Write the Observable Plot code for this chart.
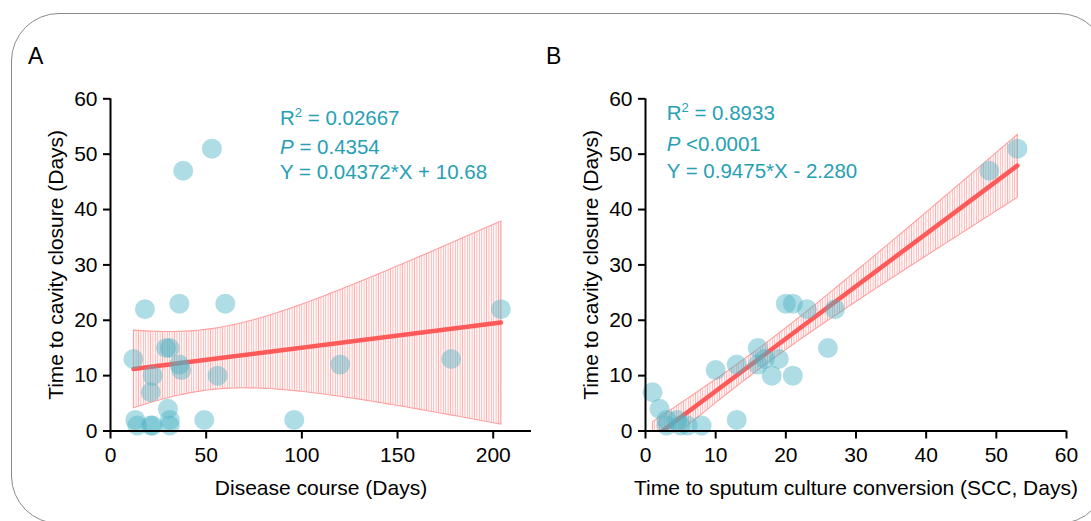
<!DOCTYPE html>
<html><head><meta charset="utf-8">
<script src="https://cdn.jsdelivr.net/npm/d3@7"></script>
<script src="https://cdn.jsdelivr.net/npm/@observablehq/plot@0.6"></script>
<style>
body{margin:0;background:#fff;}
#wrap{position:relative;width:1091px;height:521px;overflow:hidden;font-family:"Liberation Sans",Arial,sans-serif;background:#fff;}
#frame{position:absolute;left:11px;top:13px;width:1096px;height:511px;border:1.3px solid #8a8a8a;border-radius:48px;box-sizing:border-box;}
.panel{position:absolute;top:0;}
.plab{position:absolute;font-size:23px;line-height:23px;color:#000;}
.ann{position:absolute;color:#26a0b4;font-size:20.5px;line-height:20px;white-space:nowrap;}
.ann sup{font-size:13px;vertical-align:baseline;position:relative;top:-8px;}
</style></head><body>
<div id="wrap">
  <div id="frame"></div>
  <div id="pa" class="panel" style="left:0px"></div>
  <div id="pb" class="panel" style="left:545px"></div>
  <div class="plab" style="left:28px;top:45px">A</div>
  <div class="plab" style="left:546px;top:45px">B</div>
  <div id="annA"></div>
  <div id="annB"></div>
</div>
<script>
// ---- Panel A data: disease course vs time to cavity closure ----
const A_x = [53, 38, 18, 36, 60, 204, 12, 29, 31, 36, 37, 22, 56, 120, 178, 21, 30, 13, 14, 21, 22, 31, 31, 49, 96];
const A_y = [51, 47, 22, 23, 23, 22, 13, 15, 15, 12, 11, 10, 10, 12, 13, 7, 4, 2, 1, 1, 1, 2, 1, 2, 2];
const A_fit = [0.04372, 10.68];            // slope, intercept
const A_xTicks = [0, 50, 100, 150, 200];
const A_xLabel = "Disease course (Days)";
const A_stats = ["0.02667", "0.4354", "Y = 0.04372*X + 10.68"];

// ---- Panel B data: time to SCC vs time to cavity closure ----
const B_x = [53, 49, 20, 21, 23, 27, 26, 16, 19, 16, 17, 13, 10, 18, 21, 13, 1, 2, 3, 3, 4.5, 5, 6, 8];
const B_y = [51, 47, 23, 23, 22, 22, 15, 15, 13, 12, 13, 12, 11, 10, 10, 2, 7, 4, 2, 1, 2, 1, 1, 1];
const B_fit = [0.9475, -2.280];
const B_xTicks = [0, 10, 20, 30, 40, 50, 60];
const B_xLabel = "Time to sputum culture conversion (SCC, Days)";
const B_stats = ["0.8933", "<0.0001", "Y = 0.9475*X - 2.280"];

const yTicks = [0, 10, 20, 30, 40, 50, 60];
const yLabel = "Time to cavity closure (Days)";

function panel(o) {
  const data = o.xs.map((x, i) => ({x, y: o.ys[i]}));
  const ext = d3.extent(o.xs);
  const line = ext.map(x => ({x, y: o.fit[0] * x + o.fit[1]}));
  const svg = Plot.plot({
    width: o.width, height: 521,
    marginLeft: o.marginLeft, marginRight: o.marginRight,
    marginTop: 98.3, marginBottom: 90.5,
    x: {domain: o.xDomain},
    y: {domain: [0, 60]},
    style: {fontFamily: '"Liberation Sans", Arial, sans-serif', fontSize: "21px", color: "#000", background: "transparent", overflow: "visible"},
    marks: [
      Plot.linearRegressionY(data, {x: "x", y: "y", stroke: "none", fill: `url(#${o.id})`, fillOpacity: 1, ci: 0.95, clip: true}),
      Plot.line(line, {x: "x", y: "y", stroke: "#ff5a5a", strokeWidth: 4.5, clip: true}),
      Plot.dot(data, {x: "x", y: "y", r: 10, fill: "#4db3c6", fillOpacity: 0.45, stroke: "none"}),
      Plot.ruleX([0], {stroke: "#000", strokeWidth: 2}),
      Plot.ruleY([0], {stroke: "#000", strokeWidth: 2}),
      Plot.axisX({ticks: o.xTicks, tickFormat: d3.format("d"), tickSize: 8, tickPadding: 8, strokeWidth: 2,
        label: o.xLabel, labelAnchor: "center", labelOffset: 64, labelArrow: "none", dx: o.xLabelDx || 0}),
      Plot.axisY({ticks: yTicks, tickFormat: d3.format("d"), tickSize: 7, tickPadding: 6, strokeWidth: 2,
        label: yLabel, labelAnchor: "center", labelOffset: o.yLabelOffset, labelArrow: "none"})
    ]
  });
  const s = d3.select(svg);
  const defs = s.insert("defs", ":first-child");
  const pat = defs.append("pattern").attr("id", o.id).attr("patternUnits", "userSpaceOnUse")
    .attr("width", 2.4).attr("height", 10);
  pat.append("line").attr("x1", 1.2).attr("x2", 1.2).attr("y1", 0).attr("y2", 10)
    .attr("stroke", "#ffb0b0").attr("stroke-width", 1);
  s.selectAll('g[aria-label="linear-regression"] path').each(function() {
    if (this.getAttribute("stroke") === "none") {
      d3.select(this).attr("stroke", "#ffa0a0").attr("stroke-width", 1.1);
    }
  });
  return svg;
}

document.getElementById("pa").appendChild(panel({
  id: "hatchA", xs: A_x, ys: A_y, fit: A_fit, xDomain: [0, 220], xTicks: A_xTicks, xLabel: A_xLabel,
  width: 545, marginLeft: 110, marginRight: 14, yLabelOffset: 62
}));
document.getElementById("pb").appendChild(panel({
  id: "hatchB", xs: B_x, ys: B_y, fit: B_fit, xDomain: [0, 60], xTicks: B_xTicks, xLabel: B_xLabel,
  width: 546, marginLeft: 100, marginRight: 25, yLabelOffset: 62
}));

function ann(el, left, tops, stats) {
  el.innerHTML =
    `<div class="ann" style="left:${left}px;top:${tops[0]}px">R<sup>2</sup> = ${stats[0]}</div>` +
    `<div class="ann" style="left:${left}px;top:${tops[1]}px"><i>P</i> ${stats[1].startsWith("<") ? stats[1] : "= " + stats[1]}</div>` +
    `<div class="ann" style="left:${left}px;top:${tops[2]}px">${stats[2]}</div>`;
}
ann(document.getElementById("annA"), 280, [107.9, 136.9, 162.2], A_stats);
ann(document.getElementById("annB"), 666.7, [102.9, 133.6, 161.2], B_stats);
</script>
</body></html>
